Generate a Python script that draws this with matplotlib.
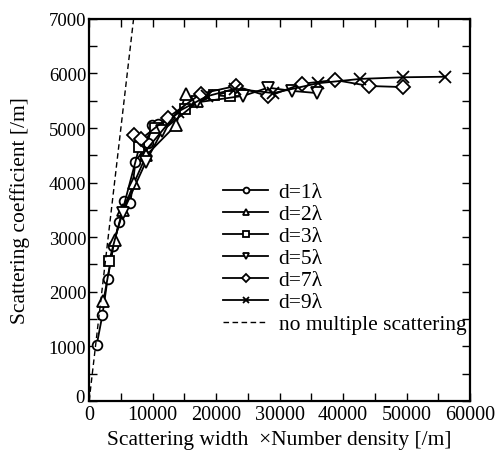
import matplotlib
matplotlib.use("Agg")
import matplotlib.pyplot as plt
import matplotlib.transforms as mtransforms
from matplotlib.ticker import MultipleLocator

plt.rcParams['font.family'] = ['Liberation Serif', 'DejaVu Serif']

# values
x_d1 = [1200, 2100, 2900, 3800, 4700, 5500, 6500, 7300, 9200, 9900, 10800]
y_d1 = [1030, 1580, 2230, 2830, 3270, 3670, 3630, 4380, 4720, 5060, 5070]

x_d2 = [2250, 4000, 5400, 7100, 9000, 13650, 15200, 17000, 23000]
y_d2 = [1830, 2950, 3500, 4000, 4500, 5050, 5620, 5500, 5700]

x_d3 = [3150, 7900, 10300, 15100, 19700, 22200]
y_d3 = [2560, 4650, 5000, 5350, 5600, 5580]

x_d5 = [5300, 8900, 11500, 17000, 24300, 28200, 32000, 35900]
y_d5 = [3450, 4370, 4950, 5470, 5590, 5740, 5680, 5640]

x_d7 = [7000, 8200, 12400, 17600, 23100, 28200, 33500, 38700, 44100, 49500]
y_d7 = [4880, 4800, 5190, 5630, 5770, 5580, 5810, 5880, 5770, 5750]

x_d9 = [9000, 14000, 18500, 23000, 29000, 36000, 42700, 49500, 56100]
y_d9 = [4600, 5300, 5580, 5720, 5640, 5820, 5900, 5930, 5940]

x_ref = [0, 7000]
y_ref = [0, 7000]

series = [
    (x_d1, y_d1, 'o', 7, 'd=1λ'),
    (x_d2, y_d2, '^', 8, 'd=2λ'),
    (x_d3, y_d3, 's', 7, 'd=3λ'),
    (x_d5, y_d5, 'v', 8, 'd=5λ'),
    (x_d7, y_d7, 'D', 7.5, 'd=7λ'),
    (x_d9, y_d9, 'x', 8, 'd=9λ'),
]

fig = plt.figure(figsize=(4.98, 4.52), dpi=100)
ax = fig.add_axes([0.179, 0.111, 0.765, 0.845])

for xs, ys, m, ms, lab in series:
    ax.plot(xs, ys, color='black', lw=1.3, marker=m, ms=ms,
            mfc='white', mec='black', mew=1.3, label=lab)

ax.plot(x_ref, y_ref, color='black', lw=1.0, ls=(0, (4, 2.5)),
        label='no multiple scattering')

ax.set_xlim(0, 60000)
ax.set_ylim(0, 7000)
ax.xaxis.set_major_locator(MultipleLocator(10000))
ax.xaxis.set_minor_locator(MultipleLocator(5000))
ax.yaxis.set_major_locator(MultipleLocator(1000))
ax.yaxis.set_minor_locator(MultipleLocator(500))
ax.tick_params(which='both', direction='in', top=True, right=True, pad=2)
ax.tick_params(axis='x', labelsize=14.5, pad=3)
ax.tick_params(axis='y', labelsize=13.5)
ax.tick_params(which='major', length=6, width=1.0)
ax.tick_params(which='minor', length=6, width=1.0)
for sp in ax.spines.values():
    sp.set_linewidth(1.6)

ax.set_xlabel('Scattering width  ×Number density [/m]', fontsize=15.5)
ax.set_ylabel('Scattering coefficient [/m]', fontsize=15.5)
ax.xaxis.set_label_coords(0.5, -0.076)
ax.yaxis.set_label_coords(-0.155, 0.5)

leg = ax.legend(loc='upper left', bbox_to_anchor=(0.352, 0.572), frameon=False,
                fontsize=15.5, handlelength=2.1, handletextpad=0.47,
                labelspacing=0.09, markerscale=0.6, borderaxespad=0,
                borderpad=0)

# the y "0" sits a little high and left, clear of the x "0"
fig.canvas.draw()
nudge = mtransforms.ScaledTranslation(-2 / 100, 5 / 100, fig.dpi_scale_trans)
for lab in ax.get_yticklabels():
    if lab.get_text() == '0':
        lab.set_transform(lab.get_transform() + nudge)

fig.savefig('out.png', dpi=100)
